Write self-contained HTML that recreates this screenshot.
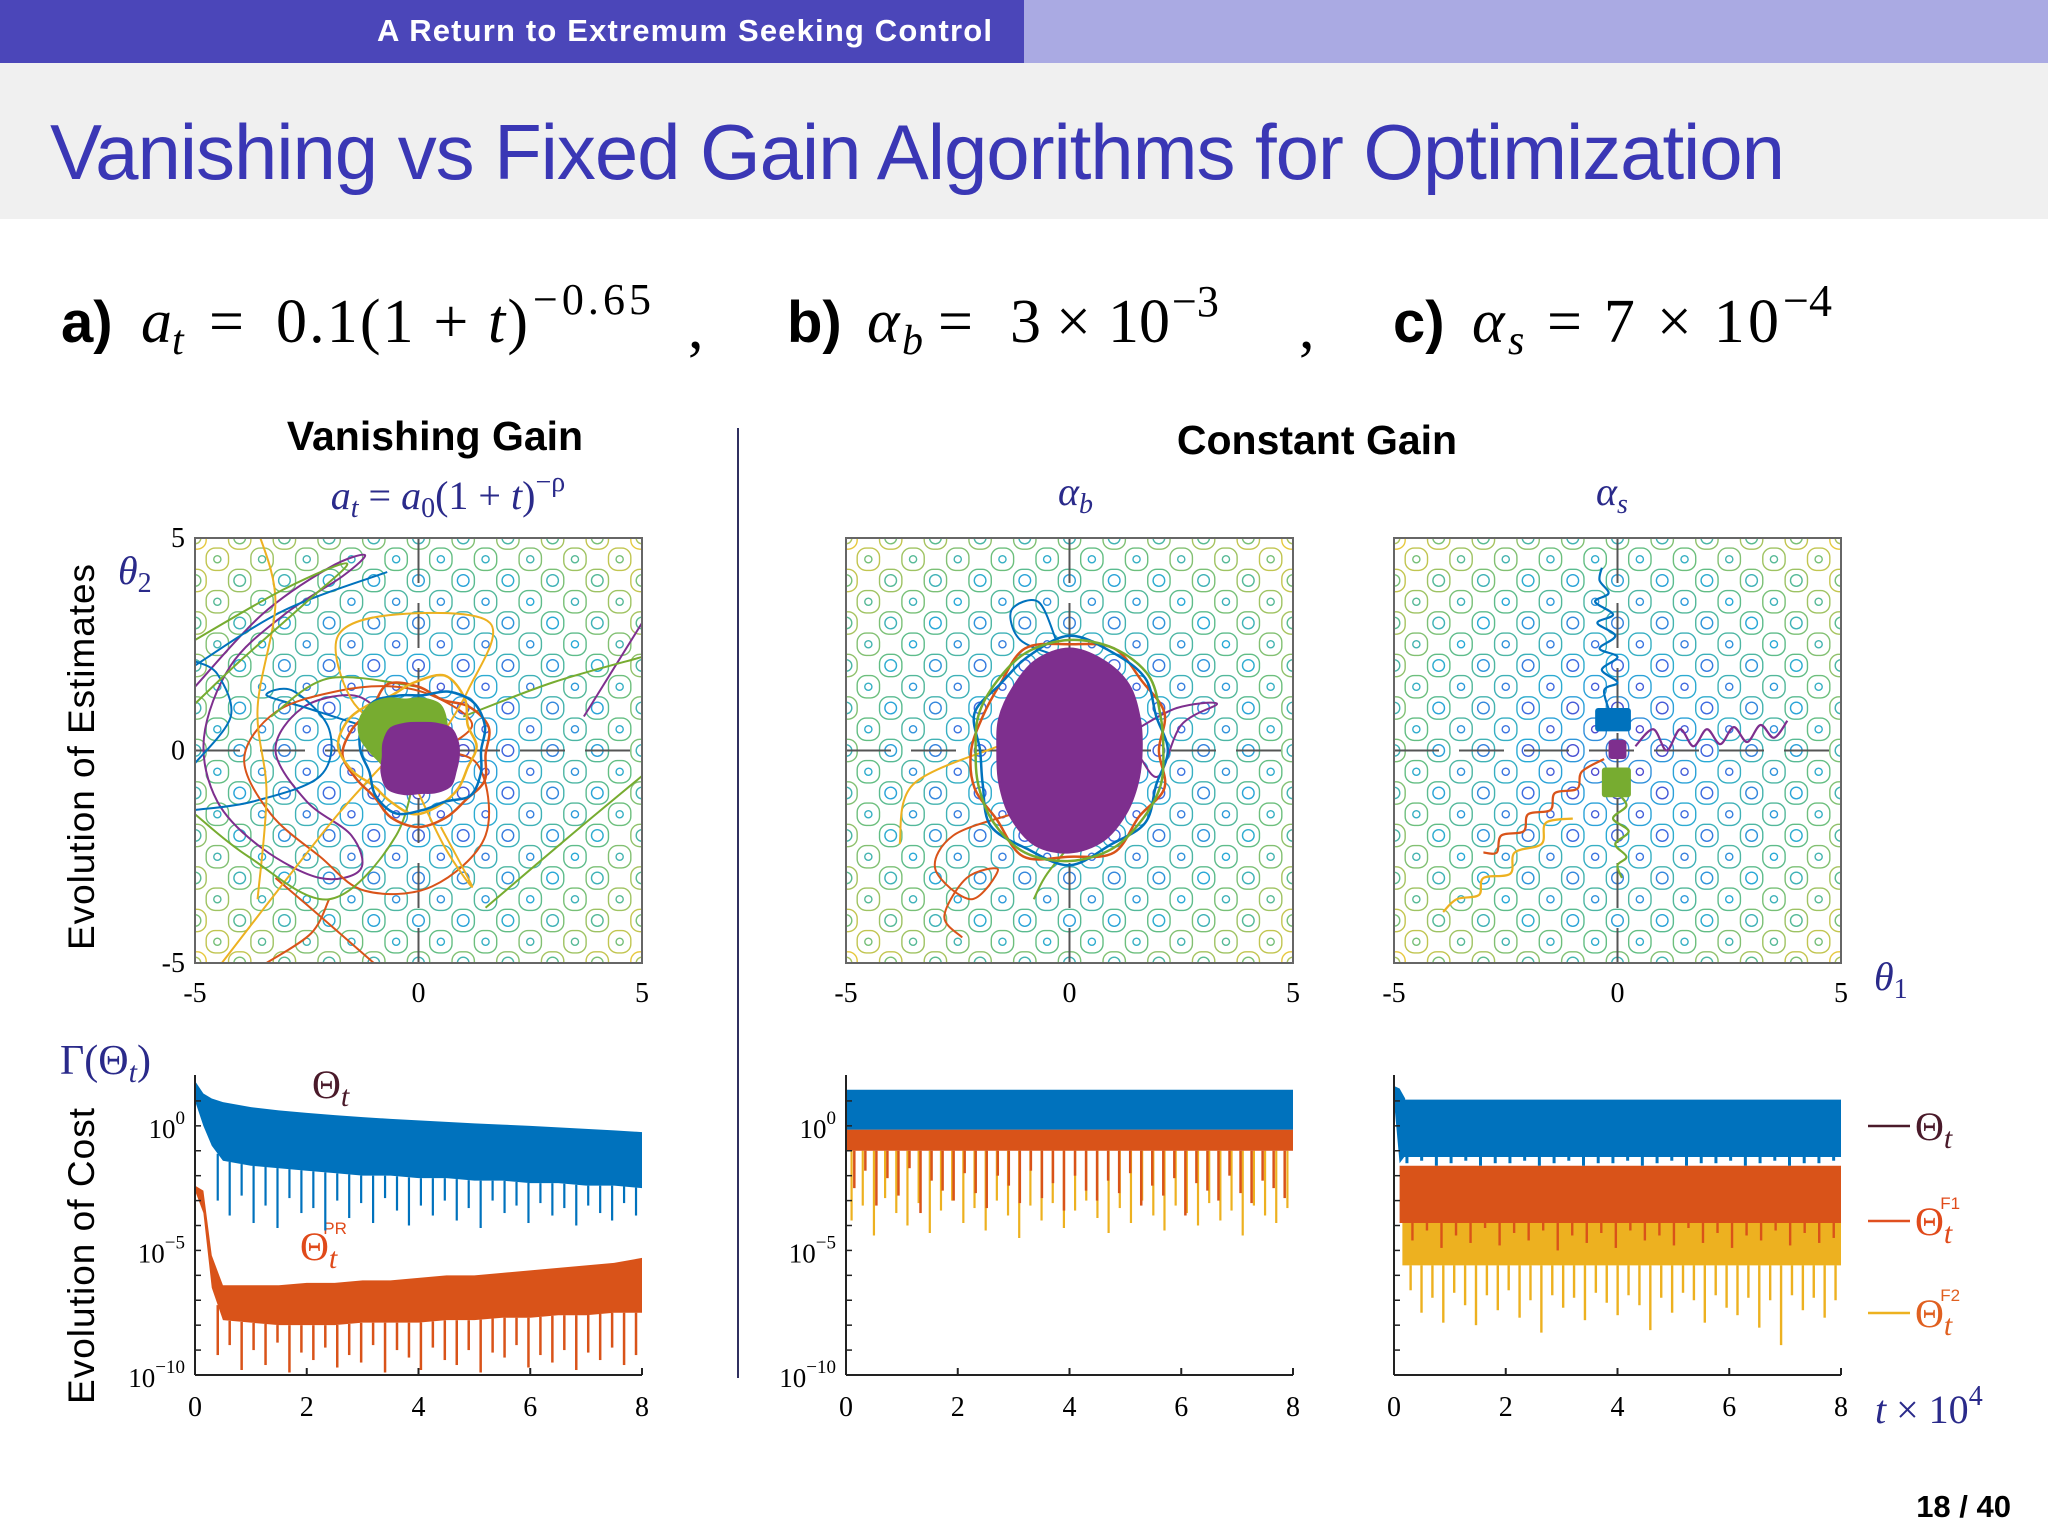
<!DOCTYPE html>
<html><head><meta charset="utf-8"><style>
html,body{margin:0;padding:0;background:#fff;}
svg{display:block;}
</style></head><body>
<svg id="root" width="2048" height="1536" viewBox="0 0 2048 1536" xmlns="http://www.w3.org/2000/svg">
<rect width="2048" height="1536" fill="#fff"/>
<rect x="0" y="0" width="1024" height="63" fill="#4b46b9"/>
<rect x="1024" y="0" width="1024" height="63" fill="#aaaae3"/>
<text x="377" y="41" fill="#fff" font-family="Liberation Sans, sans-serif" font-weight="bold" font-size="31" textLength="615">A Return to Extremum Seeking Control</text>
<rect x="0" y="63" width="2048" height="156" fill="#f0f0f0"/>
<text x="50" y="179" fill="#3a37b5" font-family="Liberation Sans, sans-serif" font-size="78" textLength="1735">Vanishing vs Fixed Gain Algorithms for Optimization</text>

<g font-family="Liberation Serif, serif" fill="#000">
<text x="61" y="342" font-family="Liberation Sans, sans-serif" font-weight="bold" font-size="58">a)</text>
<text x="141" y="342" font-style="italic" font-size="62">a</text>
<text x="172" y="354" font-style="italic" font-size="42">t</text>
<text x="209" y="342" font-size="62">=</text>
<text x="276" y="342" font-size="62" textLength="252">0.1(1 + <tspan font-style="italic">t</tspan>)</text>
<text x="533" y="314" font-size="44" textLength="118">−0.65</text>
<text x="688" y="348" font-size="62">,</text>
<text x="787" y="342" font-family="Liberation Sans, sans-serif" font-weight="bold" font-size="58">b)</text>
<text x="867" y="342" font-style="italic" font-size="62">α</text>
<text x="902" y="354" font-style="italic" font-size="42">b</text>
<text x="938" y="342" font-size="62">=</text>
<text x="1010" y="342" font-size="62">3</text>
<text x="1056" y="342" font-size="62">×</text>
<text x="1108" y="342" font-size="62">10</text>
<text x="1172" y="316" font-size="44">−3</text>
<text x="1299" y="348" font-size="62">,</text>
<text x="1393" y="342" font-family="Liberation Sans, sans-serif" font-weight="bold" font-size="58">c)</text>
<text x="1472" y="342" font-style="italic" font-size="62">α</text>
<text x="1508" y="354" font-style="italic" font-size="42">s</text>
<text x="1547" y="342" font-size="62" textLength="232">= 7 × 10</text>
<text x="1783" y="316" font-size="46">−4</text>
</g>

<text x="435" y="450" text-anchor="middle" font-family="Liberation Sans, sans-serif" font-weight="bold" font-size="41">Vanishing Gain</text>
<text x="448" y="509" text-anchor="middle" fill="#2a2a8a" font-family="Liberation Serif, serif" font-size="40"><tspan font-style="italic">a</tspan><tspan font-style="italic" font-size="28" dy="8">t</tspan><tspan dy="-8"> = </tspan><tspan font-style="italic">a</tspan><tspan font-size="28" dy="8">0</tspan><tspan dy="-8">(1 + </tspan><tspan font-style="italic">t</tspan><tspan>)</tspan><tspan font-size="28" dy="-18">−ρ</tspan></text>
<text x="1317" y="454" text-anchor="middle" font-family="Liberation Sans, sans-serif" font-weight="bold" font-size="41">Constant Gain</text>
<text x="1058" y="505" fill="#2a2a8a" font-family="Liberation Serif, serif" font-style="italic" font-size="40">α<tspan font-size="28" dy="8">b</tspan></text>
<text x="1596" y="505" fill="#2a2a8a" font-family="Liberation Serif, serif" font-style="italic" font-size="40">α<tspan font-size="28" dy="8">s</tspan></text>

<line x1="738" y1="428" x2="738" y2="1378" stroke="#303060" stroke-width="2"/>

<text x="118" y="584" fill="#2a2a8a" font-family="Liberation Serif, serif" font-style="italic" font-size="40">θ<tspan font-style="normal" font-size="28" dy="8">2</tspan></text>
<text x="1874" y="990" fill="#2a2a8a" font-family="Liberation Serif, serif" font-style="italic" font-size="40">θ<tspan font-style="normal" font-size="28" dy="8">1</tspan></text>
<text transform="translate(94,757) rotate(-90)" text-anchor="middle" font-family="Liberation Sans, sans-serif" font-size="37" textLength="386">Evolution of Estimates</text>
<text transform="translate(94,1256) rotate(-90)" text-anchor="middle" font-family="Liberation Sans, sans-serif" font-size="37" textLength="296">Evolution of Cost</text>
<text x="60" y="1074" fill="#2a2a8a" font-family="Liberation Serif, serif" font-size="42">Γ(Θ<tspan font-style="italic" font-size="30" dy="8">t</tspan><tspan dy="-8">)</tspan></text>
<text x="312" y="1098" fill="#4a1a2a" font-family="Liberation Serif, serif" font-size="40">Θ<tspan font-style="italic" font-size="30" dy="8">t</tspan></text>
<text x="300" y="1260" fill="#e04a1a" font-family="Liberation Serif, serif" font-size="40">Θ<tspan font-style="italic" font-size="30" dy="8">t</tspan><tspan font-family="Liberation Sans, sans-serif" font-size="17" dx="-14" dy="-34">PR</tspan></text>
<text x="1875" y="1423" fill="#2a2a8a" font-family="Liberation Serif, serif" font-size="40"><tspan font-style="italic">t</tspan> × 10<tspan font-size="28" dy="-18">4</tspan></text>
<text x="2011" y="1517" text-anchor="end" font-family="Liberation Sans, sans-serif" font-weight="bold" font-size="31">18 / 40</text>

<g id="legend"></g>
<g id="plots"></g>
</svg>
<script>
// ---------- data: trajectories (theta units) ----------
const trajA_purple = [[-5,1.5],[-3.5,3.2],[-2,4.3],[-1.2,4.6],[-1.7,4.1],[-3,3.2],[-4.2,2],[-4.8,0.3],[-4.5,-1.2],[-3.5,-2.3],[-2.2,-3],[-1.3,-2.8],[-1.5,-2],[-2.5,-1.2],[-3.2,0],[-2.6,1],[-1.5,1.3],[-0.8,0.9],[0,0.3]];
const trajA_purple2 = [[3.7,0.8],[5,3.0]];
const trajA_blue = [[-5,-1.4],[-3.7,-1.2],[-2.2,-0.6],[-2.0,0.5],[-2.8,1.4],[-3.4,1.3],[-2.5,1.0],[-1.3,0.6],[0,0.2]];
const trajA_blue2 = [[-5,-0.3],[-4.2,0.8],[-4.5,1.8],[-5,2.1]];
const trajA_blue3 = [[-5,2],[-3,3.3],[-0.7,4.2]];
const trajA_orange = [[0,0],[1.3,-0.3],[1.5,-2.0],[0.3,-3.2],[-1.2,-3.3],[-2.2,-2.5],[-3.3,-1.5],[-3.9,-0.2],[-3.2,0.9],[-1.8,1.4],[-0.5,1.5],[0.5,1.2],[1.2,0.6],[0.5,0]];
const trajA_orange2 = [[-3.4,-5],[-2.4,-4.3],[-2,-3.5]];
const trajA_orange3 = [[-1.0,-5],[-2.2,-3.9],[-3.2,-3.0]];
const trajA_yellow = [[-3.6,5.2],[-3.2,3.5],[-3.6,1.0],[-3.4,-1],[-3.6,-3.5]];
const trajA_yellow2 = [[-4.4,-5],[-3.3,-3.5],[-1.8,-1.5],[-0.5,0]];
const trajA_yellow3 = [[-0.5,0.3],[-1.5,1.2],[-1.8,2.7],[-0.5,3.2],[1.6,3.0],[1.1,1.4],[0.3,0]];
const trajA_yellow4 = [[0,-1],[0.6,-2.3],[1.2,-3.2],[0.5,-1.8]];
const trajA_green = [[-5,2.6],[-3,3.8],[-1.6,4.4],[-2.5,3.5],[-4,2.1],[-5,1.1]];
const trajA_green2 = [[1.0,0.8],[3.0,1.6],[5,2.2]];
const trajA_green3 = [[1.5,-3.7],[3.4,-2],[5,-0.6]];
const trajA_green4 = [[-5,-1.5],[-3.8,-2.5],[-2,-3.5],[-0.5,-2],[0,0]];
const trajA_green5 = [[-3.3,0.8],[-2,1.7],[0,1.5]];
// blob radii (theta units) sampled at 16 equal angles
const blobA_green  = [0.9,1.0,1.1,1.0,0.9,1.0,1.1,1.1,1.0,0.85,0.8,0.9,0.95,0.9,0.8,0.85];
const blobA_purple = [0.85,0.9,0.95,0.85,0.8,0.85,0.95,0.9,0.85,0.95,1.05,0.95,0.85,0.9,0.95,0.85];
const loopsA_orange= [1.5,1.7,1.6,1.4,1.6,1.8,1.5,1.6,1.7,1.5,1.4,1.6,1.7,1.6,1.5,1.6];
const loopsA_blue  = [1.3,1.5,1.6,1.5,1.3,1.4,1.6,1.5,1.4,1.3,1.5,1.6,1.4,1.3,1.5,1.4];
const loopsA_yellow= [1.4,1.3,1.6,1.8,1.5,1.3,1.4,1.6,1.7,1.5,1.3,1.4,1.6,1.5,1.4,1.3];

const blobB_purple = [1.9,2.0,2.2,2.3,2.4,2.3,2.1,2.0,1.9,2.0,2.2,2.4,2.4,2.3,2.1,1.95];
const loopsB_green = [2.1,2.2,2.5,2.6,2.6,2.5,2.3,2.2,2.1,2.2,2.4,2.6,2.6,2.5,2.3,2.2];
const loopsB_blue  = [2.2,2.1,2.4,2.5,2.7,2.4,2.2,2.3,2.0,2.1,2.5,2.5,2.7,2.4,2.4,2.1];
const loopsB_orange= [2.0,2.3,2.3,2.6,2.5,2.6,2.2,2.1,2.2,2.3,2.3,2.7,2.5,2.6,2.2,2.3];
const trajB_blue = [[-0.2,2.2],[-1.1,2.6],[-1.3,3.3],[-0.7,3.5],[-0.3,2.6]];
const trajB_orange = [[-1.3,-1.5],[-2.6,-2.0],[-3.0,-2.8],[-2.2,-3.5],[-1.6,-2.8],[-2.3,-3.0],[-2.8,-3.9],[-2.4,-4.4]];
const trajB_purple = [[1.5,0.5],[2.4,1.0],[3.3,1.1],[2.5,0.6],[2.0,-0.6],[1.6,-0.2]];
const trajB_green = [[0.2,-2.0],[-0.5,-2.9],[-0.8,-3.5]];
const trajB_yellow = [[-1.6,0.1],[-3.5,-0.8],[-3.8,-2.2]];

const trajC_blue = [[-0.1,0.7],[-0.3,1.4],[0.0,1.6],[-0.35,1.9],[0.0,2.2],[-0.4,2.4],[-0.05,2.7],[-0.45,3.0],[-0.1,3.2],[-0.5,3.5],[-0.2,3.7],[-0.4,4.0],[-0.35,4.3]];
const trajC_purple = [[0.4,0.1],[0.8,0.5],[1.1,0.0],[1.4,0.5],[1.7,0.1],[2.0,0.5],[2.3,0.15],[2.6,0.55],[2.9,0.2],[3.2,0.6],[3.5,0.3],[3.8,0.7]];
const trajC_green = [[0.0,-1.0],[0.2,-1.3],[-0.1,-1.6],[0.25,-1.9],[-0.05,-2.2],[0.2,-2.5],[0.0,-2.7],[0.1,-3.0]];
const trajC_orange = [[-0.3,-0.2],[-0.8,-0.5],[-0.9,-0.9],[-1.4,-1.0],[-1.5,-1.4],[-2.0,-1.5],[-2.1,-1.9],[-2.6,-2.0],[-2.7,-2.4],[-3.0,-2.4]];
const trajC_yellow = [[-1.0,-1.6],[-1.6,-1.7],[-1.7,-2.2],[-2.3,-2.4],[-2.4,-2.9],[-3.0,-3.0],[-3.1,-3.4],[-3.6,-3.5],[-3.9,-3.8]];
const boxC_blue = [-0.5,0.45,0.3,1.0];  // x0,y0,x1,y1
const boxC_purple = [-0.2,-0.2,0.2,0.25];
const boxC_green = [-0.35,-1.1,0.3,-0.4];

// ---------- data: cost curves (log10 values) ----------
const tA = [0,0.15,0.3,0.5,1,1.5,2,2.5,3,3.5,4,4.5,5,5.5,6,6.5,7,7.5,8];
const aBlueTop = [1.8,1.3,1.1,0.95,0.75,0.62,0.52,0.43,0.35,0.28,0.22,0.16,0.1,0.05,0.0,-0.06,-0.12,-0.18,-0.25];
const aBlueBot = [1.0,0.0,-0.8,-1.4,-1.6,-1.7,-1.8,-1.9,-2.0,-2.0,-2.1,-2.1,-2.2,-2.2,-2.3,-2.3,-2.4,-2.4,-2.5];
const aOrgTop = [-2.4,-2.6,-5.2,-6.4,-6.4,-6.4,-6.3,-6.3,-6.2,-6.2,-6.1,-6.0,-6.0,-5.9,-5.8,-5.7,-5.6,-5.5,-5.3];
const aOrgBot = [-2.6,-3.5,-6.5,-7.8,-7.9,-8.0,-8.0,-8.0,-7.9,-7.9,-7.9,-7.8,-7.8,-7.7,-7.7,-7.6,-7.6,-7.5,-7.5];
const aBlueSpikes = [-3.0,-3.6,-2.8,-3.9,-3.2,-4.1,-2.9,-3.5,-3.3,-4.2,-3.0,-3.7,-3.1,-3.9,-2.9,-3.4,-4.0,-3.2,-3.6,-3.0,-3.8,-3.3,-4.1,-3.0,-3.5,-3.2,-3.9,-3.1,-3.6,-3.3,-4.0,-3.2,-3.5,-3.8,-3.1,-3.6];
const aOrgSpikes = [-9.2,-8.8,-9.8,-9.0,-9.6,-8.7,-9.9,-9.1,-9.4,-8.9,-9.7,-9.2,-9.5,-8.8,-9.9,-9.0,-9.3,-9.8,-8.9,-9.4,-9.6,-9.0,-9.9,-9.1,-9.3,-8.8,-9.7,-9.2,-9.5,-9.0,-9.8,-9.1,-9.4,-8.9,-9.6,-9.2];
const bBlueBand = [1.45,-0.15];
const bOrgBot = -1.0;
const bOrgSpikes = [-2.5,-1.8,-3.2,-2.1,-2.8,-1.7,-3.5,-2.2,-2.6,-3.0,-1.9,-2.7,-3.3,-2.0,-2.4,-3.1,-1.8,-2.9,-2.3,-3.4,-2.0,-2.6,-3.0,-2.2,-2.7,-1.9,-3.2,-2.4,-2.8,-2.1,-3.6,-2.3,-2.6,-3.0,-2.0,-2.7,-3.1,-2.2,-2.5,-2.9];
const bYelSpikes = [-3.8,-3.2,-4.4,-2.9,-3.5,-4.0,-3.1,-4.3,-3.4,-3.0,-3.9,-3.3,-4.2,-3.0,-3.6,-4.5,-3.2,-3.8,-3.1,-4.1,-3.4,-3.0,-3.7,-4.3,-3.3,-3.9,-3.0,-3.6,-4.2,-3.2,-3.5,-4.0,-3.1,-3.8,-3.4,-4.4,-3.2,-3.6,-3.9,-3.3];
const cBlueBand = [1.05,-1.25];
const cOrgBand = [-1.6,-3.9];
const cYelBot = -5.6;
const cBlueSpikes = [-1.5,-1.4,-1.6,-1.5,-1.4,-1.6,-1.5,-1.5,-1.4,-1.6,-1.5,-1.4,-1.6,-1.5,-1.5,-1.4,-1.6,-1.5,-1.4,-1.6,-1.5,-1.5,-1.4,-1.6,-1.5,-1.4,-1.6,-1.5,-1.5,-1.4];
const cOrgSpikes = [-4.6,-4.2,-4.9,-4.4,-4.7,-4.1,-4.8,-4.3,-4.6,-4.2,-5.0,-4.4,-4.7,-4.3,-4.9,-4.2,-4.6,-4.4,-4.8,-4.1,-4.7,-4.3,-4.9,-4.4,-4.6,-4.2,-4.8,-4.3,-4.7,-4.5];
const cYelSpikes = [-6.6,-7.5,-6.9,-7.9,-6.7,-7.2,-8.0,-6.8,-7.4,-6.6,-7.7,-7.0,-8.3,-6.8,-7.3,-6.9,-7.8,-6.7,-7.1,-7.6,-6.8,-7.2,-8.2,-6.9,-7.5,-6.7,-7.0,-7.9,-6.8,-7.3,-7.6,-6.9,-8.1,-7.0,-8.8,-6.8,-7.4,-6.9,-7.7,-7.0];
const xTicks = [0,2,4,6,8];
const yTickExp = [0,-5,-10];

// ---------- helpers ----------
const NS='http://www.w3.org/2000/svg';
const plots=document.getElementById('plots');
function mk(tag,attrs,parent){const e=document.createElementNS(NS,tag);for(const k in attrs)e.setAttribute(k,attrs[k]);(parent||plots).appendChild(e);return e;}
const C={blue:'#0072bd',orange:'#d95319',yellow:'#edb120',purple:'#7e2f8e',green:'#77ac30'};
const cmapStops=[[0,[85,60,200]],[0.3,[60,110,225]],[0.55,[40,170,215]],[0.78,[100,190,130]],[1,[230,200,60]]];
function cmap(v){v=Math.max(0,Math.min(1,v));for(let i=1;i<cmapStops.length;i++){if(v<=cmapStops[i][0]){const a=cmapStops[i-1],b=cmapStops[i];const f=(v-a[0])/(b[0]-a[0]);return 'rgb('+a[1].map((c,k)=>Math.round(c+(b[1][k]-c)*f)).join(',')+')';}}return 'rgb(230,200,60)';}
function smooth(pts){if(pts.length<3){return 'M'+pts.map(p=>p.join(',')).join(' L');}let d='M'+pts[0][0]+','+pts[0][1];for(let i=0;i<pts.length-1;i++){const p0=pts[i-1]||pts[i],p1=pts[i],p2=pts[i+1],p3=pts[i+2]||p2;const c1=[p1[0]+(p2[0]-p0[0])/6,p1[1]+(p2[1]-p0[1])/6],c2=[p2[0]-(p3[0]-p1[0])/6,p2[1]-(p3[1]-p1[1])/6];d+=' C'+c1+' '+c2+' '+p2;}return d;}
function closedSmooth(pts){const n=pts.length;let d='M'+pts[0];for(let i=0;i<n;i++){const p0=pts[(i-1+n)%n],p1=pts[i],p2=pts[(i+1)%n],p3=pts[(i+2)%n];const c1=[p1[0]+(p2[0]-p0[0])/6,p1[1]+(p2[1]-p0[1])/6],c2=[p2[0]-(p3[0]-p1[0])/6,p2[1]-(p3[1]-p1[1])/6];d+=' C'+c1+' '+c2+' '+p2;}return d+'Z';}

const TOP=538,H=425,W=447;
function phase(L,name,cid){
  const g=mk('g',{});
  
  
  const px=u=>L+(u+5)/10*W, py=v=>TOP+(5-v)/10*H;
  const cp=mk('clipPath',{id:cid},g);mk('rect',{x:L,y:TOP,width:W,height:H},cp);
  const inner=mk('g',{'clip-path':'url(#'+cid+')'},g);
  const cont=mk('g',{fill:'none','stroke-width':1.4},inner);
  
  
  for(let i=-10;i<=10;i++)for(let j=-10;j<=10;j++){if((i+j)%2)continue;const x=i*0.5,y=j*0.5,d=Math.hypot(x,y)/7.07;
    const s=(W/10);
    const big=(i%2===0);
    mk('rect',{x:px(x)-0.25*s,y:py(y)-0.25*s,width:0.5*s,height:0.5*s,rx:0.2*s,stroke:cmap(0.38+d*0.62)},cont);
    mk('circle',{cx:px(x),cy:py(y),r:(big?0.13:0.08)*s,stroke:cmap(d*0.9)},cont);
  }
  mk('line',{x1:px(0),y1:TOP,x2:px(0),y2:TOP+H,stroke:'#555','stroke-width':2,'stroke-dasharray':'45 20'},inner);
  mk('line',{x1:L,y1:py(0),x2:L+W,y2:py(0),stroke:'#555','stroke-width':2,'stroke-dasharray':'45 20'},inner);
  return {g,inner,px,py};
}
function traj(P,pts,col,name,w){const e=mk('path',{d:smooth(pts.map(p=>[P.px(p[0]),P.py(p[1])])),fill:'none',stroke:col,'stroke-width':w||2},P.inner);
  
  }
function blob(P,radii,cx,cy,col,name,fill,sx){const n=radii.length;const pts=radii.map((r,k)=>{const a=k/n*2*Math.PI;return [P.px(cx+r*(sx||1)*Math.cos(a)),P.py(cy+r*Math.sin(a))];});
  const e=mk('path',{d:closedSmooth(pts),fill:fill?col:'none',stroke:col,'stroke-width':fill?2:2.5},P.inner);
  
  }
function box(P,b,col,name){const e=mk('rect',{x:P.px(b[0]),y:P.py(b[3]),width:P.px(b[2])-P.px(b[0]),height:P.py(b[1])-P.py(b[3]),fill:col,rx:3},P.inner);
  
  }
function phaseFrame(P,L,showY){
  mk('rect',{x:L,y:TOP,width:W,height:H,fill:'none',stroke:'#666','stroke-width':2},P.g);
  const f='Liberation Serif, serif';
  [[-5,'-5'],[0,'0'],[5,'5']].forEach(([v,s])=>{const t=mk('text',{x:P.px(v),y:1002,'text-anchor':'middle','font-family':f,'font-size':28},P.g);t.textContent=s;
    
    });
  if(showY)[[-5,'-5'],[0,'0'],[5,'5']].forEach(([v,s])=>{const t=mk('text',{x:L-10,y:P.py(v)+9,'text-anchor':'end','font-family':f,'font-size':28},P.g);t.textContent=s;
    
    });
}

// ---------- phase plot a ----------
const PA=phase(195,'phase-plot-vanishing','clipA');
[[trajA_purple,C.purple],[trajA_purple2,C.purple],[trajA_blue,C.blue],[trajA_blue2,C.blue],[trajA_blue3,C.blue],[trajA_orange,C.orange],[trajA_orange2,C.orange],[trajA_orange3,C.orange],[trajA_yellow,C.yellow],[trajA_yellow2,C.yellow],[trajA_yellow3,C.yellow],[trajA_yellow4,C.yellow],[trajA_green,C.green],[trajA_green2,C.green],[trajA_green3,C.green],[trajA_green4,C.green],[trajA_green5,C.green]].forEach(([p,c])=>traj(PA,p,c,'trajectory'));
blob(PA,loopsA_orange,0,-0.1,C.orange,'orange-loops');
blob(PA,loopsA_yellow,-0.1,0.1,C.yellow,'yellow-loops');
blob(PA,loopsA_blue,0.1,0,C.blue,'blue-loops');
blob(PA,blobA_green,-0.3,0.3,C.green,'green-cluster',true);
blob(PA,blobA_purple,0.05,-0.15,C.purple,'purple-cluster',true);
phaseFrame(PA,195,true);

// ---------- phase plot b ----------
const PB=phase(846,'phase-plot-alpha-b','clipB');
[[trajB_blue,C.blue],[trajB_orange,C.orange],[trajB_purple,C.purple],[trajB_green,C.green],[trajB_yellow,C.yellow]].forEach(([p,c])=>traj(PB,p,c,'trajectory'));
blob(PB,loopsB_orange,0,0,C.orange,'orange-loops');
blob(PB,loopsB_blue,0,0,C.blue,'blue-loops');
blob(PB,loopsB_green,0,0,C.green,'green-loops');
blob(PB,blobB_purple,0,0,C.purple,'purple-cluster',true,0.85);
phaseFrame(PB,846,false);

// ---------- phase plot c ----------
const PC=phase(1394,'phase-plot-alpha-s','clipC');
[[trajC_blue,C.blue],[trajC_purple,C.purple],[trajC_green,C.green],[trajC_orange,C.orange],[trajC_yellow,C.yellow]].forEach(([p,c])=>traj(PC,p,c,'trajectory',2.2));
box(PC,boxC_blue,C.blue,'blue-cluster');
box(PC,boxC_green,C.green,'green-cluster');
box(PC,boxC_purple,C.purple,'purple-cluster');
phaseFrame(PC,1394,false);

// ---------- cost plots ----------
const CT=1081,CB=1375,LMIN=-10,LMAX=1.8;
function costPanel(L,name){
  const g=mk('g',{});
  
  
  const x=t=>L+t/8*W, y=l=>CB-(l-LMIN)/(LMAX-LMIN)*(CB-CT);
  return {g,x,y,L};
}
function band(P,ts,top,bot,col,name){
  const pts=ts.map((t,i)=>[P.x(t),P.y(top[i])]).concat(ts.map((t,i)=>[P.x(t),P.y(bot[i])]).reverse());
  const e=mk('polygon',{points:pts.map(p=>p.join(',')).join(' '),fill:col},P.g);
  
  
}
function spikes(P,t0,t1,from,depths,col,name,w){
  const g=mk('g',{stroke:col,'stroke-width':w||2.2},P.g);
  
  
  depths.forEach((d,i)=>{const t=t0+(i+0.5)/depths.length*(t1-t0);const f=typeof from==='function'?from(t):from;mk('line',{x1:P.x(t),y1:P.y(f),x2:P.x(t),y2:P.y(d)},g);});
}
function interp(ts,vs){return t=>{for(let i=1;i<ts.length;i++)if(t<=ts[i]){const f=(t-ts[i-1])/(ts[i]-ts[i-1]);return vs[i-1]+(vs[i]-vs[i-1])*f;}return vs[vs.length-1];};}
function costAxes(P,showY){
  mk('line',{x1:P.L,y1:CT-6,x2:P.L,y2:CB,stroke:'#222','stroke-width':2},P.g);
  mk('line',{x1:P.L,y1:CB,x2:P.L+W,y2:CB,stroke:'#222','stroke-width':2},P.g);
  xTicks.forEach(t=>{mk('line',{x1:P.x(t),y1:CB,x2:P.x(t),y2:CB-7,stroke:'#222','stroke-width':2},P.g);
    const e=mk('text',{x:P.x(t),y:1416,'text-anchor':'middle','font-family':'Liberation Serif, serif','font-size':28},P.g);e.textContent=t;
    
    });
  for(let l=-10;l<=1;l++)mk('line',{x1:P.L,y1:P.y(l),x2:P.L+6,y2:P.y(l),stroke:'#222','stroke-width':1.5},P.g);
  if(showY)yTickExp.forEach(e=>{const t=mk('text',{x:P.L-10,y:P.y(e)+12,'text-anchor':'end','font-family':'Liberation Serif, serif','font-size':27},P.g);
    t.innerHTML='10<tspan font-size="19" dy="-14">'+(e===0?'0':'−'+(-e))+'</tspan>';
    
    });
}
const CA=costPanel(195,'cost-plot-vanishing');
band(CA,tA,aOrgTop,aOrgBot,C.orange,'theta-pr-band');
spikes(CA,0.3,8,interp(tA,aOrgBot),aOrgSpikes,C.orange,'theta-pr-spikes',2.5);
band(CA,tA,aBlueTop,aBlueBot,C.blue,'theta-band');
spikes(CA,0.3,8,interp(tA,aBlueBot),aBlueSpikes,C.blue,'theta-spikes',2.2);
costAxes(CA,true);
const CBp=costPanel(846,'cost-plot-alpha-b');
spikes(CBp,0,8,bOrgBot,bYelSpikes,C.yellow,'theta-f2-spikes',2.2);
band(CBp,[0,8],[bBlueBand[1],bBlueBand[1]],[bOrgBot,bOrgBot],C.orange,'theta-f1-band');
spikes(CBp,0.05,7.95,bOrgBot,bOrgSpikes,C.orange,'theta-f1-spikes',2.5);
band(CBp,[0,8],[bBlueBand[0],bBlueBand[0]],[bBlueBand[1],bBlueBand[1]],C.blue,'theta-band');
costAxes(CBp,true);
const CC=costPanel(1394,'cost-plot-alpha-s');
band(CC,[0.15,8],[cOrgBand[1],cOrgBand[1]],[cYelBot,cYelBot],C.yellow,'theta-f2-band');
spikes(CC,0.2,8,cYelBot,cYelSpikes,C.yellow,'theta-f2-spikes',2.4);
band(CC,[0.1,8],[cOrgBand[0],cOrgBand[0]],[cOrgBand[1],cOrgBand[1]],C.orange,'theta-f1-band');
spikes(CC,0.2,8,cOrgBand[1],cOrgSpikes,C.orange,'theta-f1-spikes',2.4);
band(CC,[0.1,8],[cBlueBand[0],cBlueBand[0]],[cBlueBand[1],cBlueBand[1]],C.blue,'theta-band');
spikes(CC,0.1,8,cBlueBand[1],cBlueSpikes,C.blue,'theta-spikes',3);
band(CC,[0,0.1,0.2],[1.6,1.5,1.1],[1.0,-1.5,-1.2],C.blue,'theta-initial');
costAxes(CC,false);

// ---------- legend ----------
const lg=document.getElementById('legend');
[['#4a1a2a','',1126,'#4a1a2a'],['#e05020','F1',1221,'#e04a1a'],['#edb120','F2',1313,'#e06020']].forEach(([c,sup,yy,tc])=>{
  const it=mk('g',{},lg);
  
  
  mk('line',{x1:1868,y1:yy,x2:1910,y2:yy,stroke:c,'stroke-width':2.5},it);
  const t=mk('text',{x:1915,y:yy+14,fill:tc,'font-family':'Liberation Serif, serif','font-size':40},it);
  t.innerHTML='Θ<tspan font-style="italic" font-size="30" dy="8">t</tspan>'+(sup?'<tspan font-family="Liberation Sans, sans-serif" font-size="17" dx="-12" dy="-34">'+sup+'</tspan>':'');
});
</script>
</body></html>
